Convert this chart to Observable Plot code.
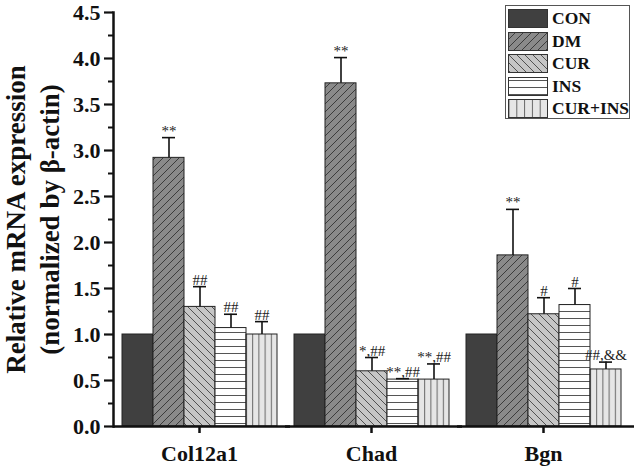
<!DOCTYPE html>
<html><head><meta charset="utf-8">
<script src="https://cdn.jsdelivr.net/npm/d3@7"></script>
<script src="https://cdn.jsdelivr.net/npm/@observablehq/plot@0.6"></script>
<style>
body{margin:0;background:#fff;}
#wrap{position:relative;width:634px;height:469px;}
.legend{position:absolute;left:505px;top:5px;width:125px;height:114px;border:1px solid #555;box-sizing:border-box;background:#fff;font:bold 17.5px "Liberation Serif",serif;color:#111;}
.row{position:absolute;left:2px;height:19px;display:flex;align-items:center;white-space:nowrap;}
.row svg{margin-right:4px;display:block;}
</style></head><body>
<svg width="0" height="0" style="position:absolute">
<defs>
<pattern id="pCON" patternUnits="userSpaceOnUse" width="8" height="8"><rect width="8" height="8" fill="#404040"/></pattern>
<pattern id="pDM" patternUnits="userSpaceOnUse" width="8" height="8">
<rect width="8" height="8" fill="#8a8a8a"/>
<path d="M-2,2 L2,-2 M0,8 L8,0 M6,10 L10,6" stroke="#333" stroke-width="0.9"/>
</pattern>
<pattern id="pCUR" patternUnits="userSpaceOnUse" width="8" height="8">
<rect width="8" height="8" fill="#c6c6c6"/>
<path d="M-2,6 L2,10 M0,0 L8,8 M6,-2 L10,2" stroke="#444" stroke-width="0.9"/>
</pattern>
<pattern id="pINS" patternUnits="userSpaceOnUse" width="8" height="7">
<rect width="8" height="7" fill="#ffffff"/>
<path d="M0,3.5 L8,3.5" stroke="#555" stroke-width="1"/>
</pattern>
<pattern id="pCI" patternUnits="objectBoundingBox" width="0.2" height="1">
<rect width="40" height="1000" fill="#e6e6e6"/>
<path d="M0.5,0 L0.5,1000" stroke="#666" stroke-width="1"/>
</pattern>
</defs>
</svg>
<div id="wrap"></div>
<script>
const genes = ["Col12a1", "Chad", "Bgn"];
const groups = ["CON", "DM", "CUR", "INS", "CUR+INS"];
const groupFills = ["url(#pCON)", "url(#pDM)", "url(#pCUR)", "url(#pINS)", "url(#pCI)"];

const col12a1 = [1.00, 2.92, 1.30, 1.07, 1.00];
const chad    = [1.00, 3.73, 0.60, 0.51, 0.51];
const bgn     = [1.00, 1.86, 1.22, 1.32, 0.62];

const col12a1Err = [0, 0.22, 0.22, 0.15, 0.14];
const chadErr    = [0, 0.28, 0.15, 0.01, 0.17];
const bgnErr     = [0, 0.50, 0.18, 0.18, 0.08];

const col12a1Sig = ["", "**", "##", "##", "##"];
const chadSig    = ["", "**", "*,##", "**,##", "**,##"];
const bgnSig     = ["", "**", "#", "#", "##,&&"];

const yTicks = [0, 0.5, 1.0, 1.5, 2.0, 2.5, 3.0, 3.5, 4.0, 4.5];
const yMinorTicks = [0.25, 0.75, 1.25, 1.75, 2.25, 2.75, 3.25, 3.75, 4.25];
const yLabel = "Relative mRNA expression\n(normalized by β-actin)";

const series = {Col12a1: [col12a1, col12a1Err, col12a1Sig], Chad: [chad, chadErr, chadSig], Bgn: [bgn, bgnErr, bgnSig]};
const rows = [];
for (const g of genes) {
  const [v, e, s] = series[g];
  groups.forEach((grp, i) => rows.push({gene: g, group: grp, value: v[i], err: e[i], sig: s[i]}));
}
const withErr = rows.filter(d => d.err > 0);
const withSig = rows.filter(d => d.sig);

const serif = '"Liberation Serif", "Times New Roman", serif';

const chart = Plot.plot({
  width: 634, height: 469,
  marginLeft: 112, marginRight: 5, marginTop: 12, marginBottom: 43,
  style: {fontFamily: serif, background: "white", overflow: "visible", color: "#111"},
  fx: {domain: genes, padding: 0, label: null, axis: null},
  x: {domain: groups, paddingInner: 0, paddingOuter: 0.26, axis: null},
  y: {domain: [0, 4.5], axis: null},
  color: {domain: groups, range: groupFills},
  marks: [
    Plot.barY(rows, {fx: "gene", x: "group", y: "value", fill: "group", stroke: "#222", strokeWidth: 1}),
    Plot.ruleX(withErr, {fx: "gene", x: "group", y1: "value", y2: d => d.value + d.err, stroke: "#111", strokeWidth: 1.6}),
    Plot.tickY(withErr, {fx: "gene", x: "group", y: d => d.value + d.err, stroke: "#111", strokeWidth: 1.6, inset: 9}),
    Plot.text(withSig, {fx: "gene", x: "group", y: d => d.value + d.err, text: "sig", lineAnchor: "bottom", dy: -2, fontSize: 15, fill: "#222"}),
    Plot.ruleY([0], {stroke: "#111", strokeWidth: 2.5, insetRight: -5}),
    Plot.frame({anchor: "left", facet: "super", stroke: "#111", strokeWidth: 2.5}),
    Plot.axisY({ticks: yTicks, tickFormat: d3.format(".1f"), tickSize: 9, tickPadding: 4, fontSize: 22, fontWeight: "bold", strokeWidth: 2.2, label: null}),
    Plot.axisY({ticks: yMinorTicks, tickFormat: () => "", tickSize: 5, strokeWidth: 2, label: null}),
    Plot.axisFx({anchor: "bottom", tickSize: 7, tickPadding: 12, fontSize: 22, fontWeight: "bold", strokeWidth: 2.5, label: null}),
    Plot.text([yLabel], {facet: "super", frameAnchor: "left", rotate: -90, dx: -82, fontSize: 27, fontWeight: "bold", lineHeight: 1.25, textAnchor: "middle", fill: "#111"})
  ]
});

const wrap = document.getElementById("wrap");
wrap.appendChild(chart);

const legend = document.createElement("div");
legend.className = "legend";
groups.forEach((g, i) => {
  const row = document.createElement("div");
  row.className = "row";
  row.style.top = (3 + 22.5 * i) + "px";
  row.innerHTML = `<svg width="40" height="19"><rect x="0.5" y="0.5" width="39" height="18" fill="${groupFills[i]}" stroke="#333" stroke-width="1"/></svg><span>${g}</span>`;
  legend.appendChild(row);
});
wrap.appendChild(legend);
</script>
</body></html>
